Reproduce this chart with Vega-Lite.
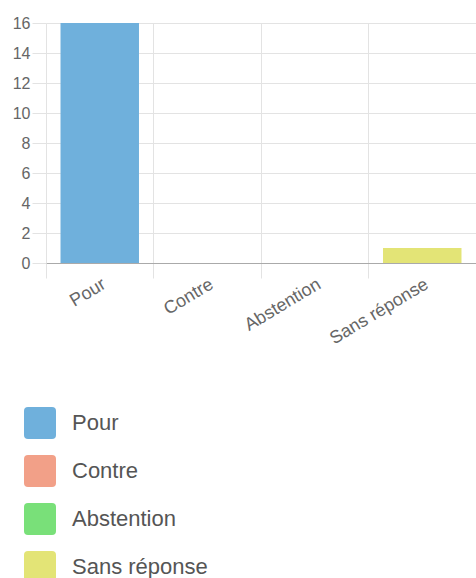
{
  "$schema": "https://vega.github.io/schema/vega-lite/v6.json",
  "width": 430,
  "height": 240,
  "autosize": {"type": "none"},
  "padding": {"left": 46, "top": 23, "right": 0, "bottom": 315},
  "background": "white",
  "config": {
    "font": "Liberation Sans",
    "view": {"stroke": null}
  },
  "data": {
    "values": [
      {"reponse": "Pour", "votes": 16},
      {"reponse": "Contre", "votes": 0},
      {"reponse": "Abstention", "votes": 0},
      {"reponse": "Sans réponse", "votes": 1}
    ]
  },
  "mark": {"type": "bar", "width": {"band": 0.73}},
  "encoding": {
    "x": {
      "field": "reponse",
      "type": "nominal",
      "sort": null,
      "scale": {"paddingInner": 0, "paddingOuter": 0},
      "axis": {
        "title": null,
        "bandPosition": 0,
        "grid": true,
        "gridColor": "#e3e3e3",
        "tickColor": "#e3e3e3",
        "tickSize": 15,
        "domainColor": "#aaaaaa",
        "labelAngle": -31,
        "labelFontSize": 18,
        "labelColor": "#666666",
        "labelPadding": -3
      }
    },
    "y": {
      "field": "votes",
      "type": "quantitative",
      "scale": {"domain": [0, 16], "nice": false},
      "axis": {
        "title": null,
        "values": [0, 2, 4, 6, 8, 10, 12, 14, 16],
        "domain": false,
        "grid": true,
        "gridColor": "#e3e3e3",
        "tickColor": "#e3e3e3",
        "tickSize": 14,
        "labelFontSize": 16,
        "labelColor": "#666666",
        "labelPadding": 2
      }
    },
    "color": {
      "field": "reponse",
      "type": "nominal",
      "sort": null,
      "scale": {
        "domain": ["Pour", "Contre", "Abstention", "Sans réponse"],
        "range": ["#6FB0DC", "#F2A088", "#79E079", "#E3E476"]
      },
      "legend": {
        "title": null,
        "orient": "none",
        "legendX": -22,
        "legendY": 384,
        "direction": "vertical",
        "symbolType": "M -0.75 -1 L 0.75 -1 Q 1 -1 1 -0.75 L 1 0.75 Q 1 1 0.75 1 L -0.75 1 Q -1 1 -1 0.75 L -1 -0.75 Q -1 -1 -0.75 -1 Z",
        "symbolSize": 1024,
        "symbolStrokeWidth": 0,
        "symbolOpacity": 1,
        "rowPadding": 16,
        "labelFontSize": 22,
        "labelColor": "#555555",
        "labelOffset": 16,
        "labelLimit": 300
      }
    }
  }
}
